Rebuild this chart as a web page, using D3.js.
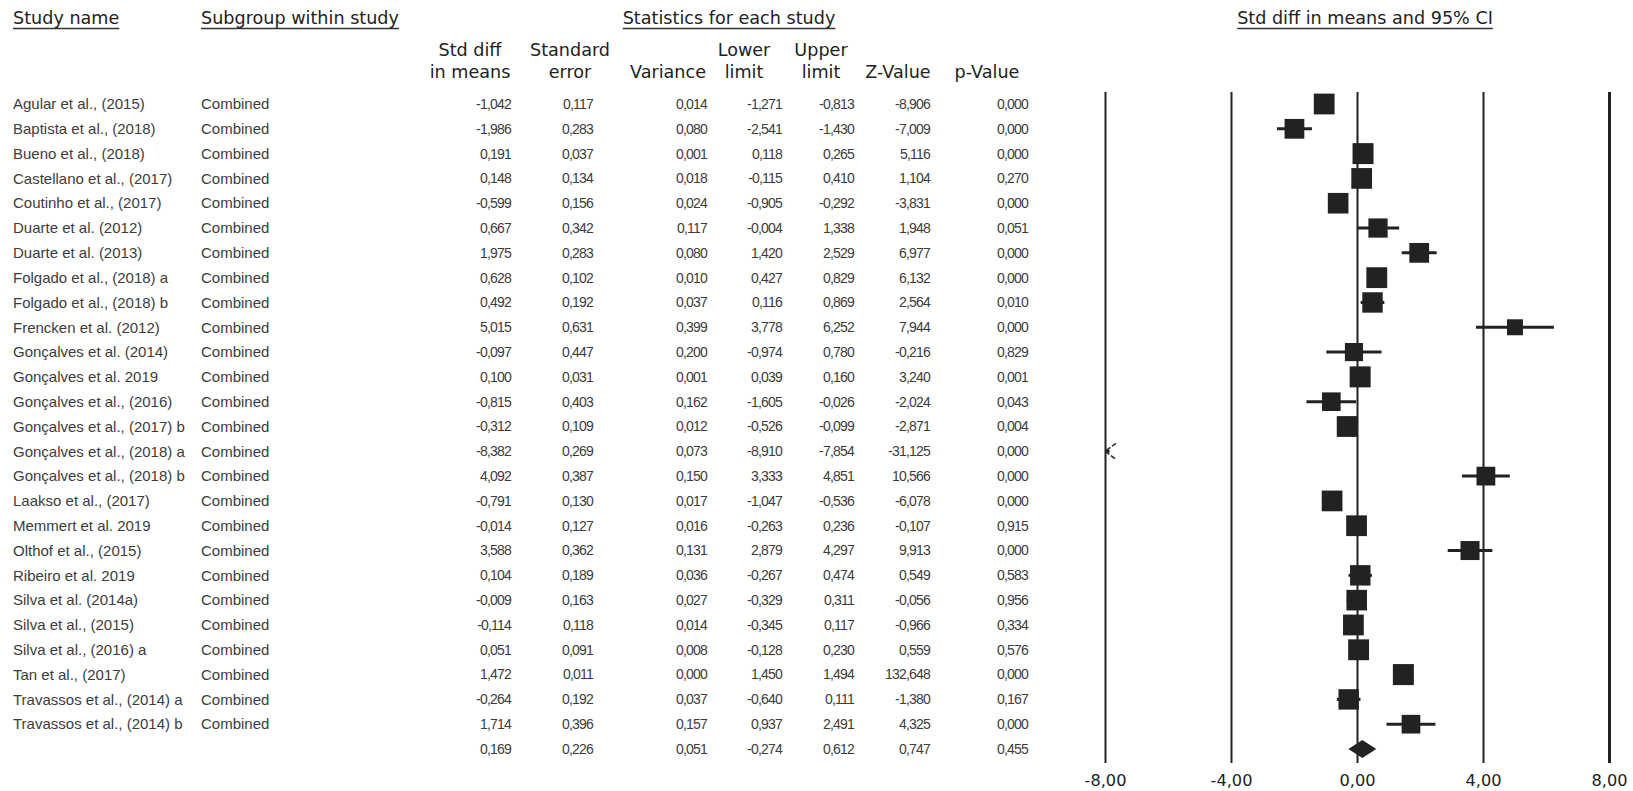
<!DOCTYPE html>
<html>
<head>
<meta charset="utf-8">
<script src="https://cdn.jsdelivr.net/npm/d3@7"></script>
<style>
  html, body { margin: 0; padding: 0; background: #fff; }
  svg { display: block; }
</style>
</head>
<body>
<svg id="chart" width="1633" height="791"></svg>
<script>
// Forest plot: standardized mean differences with 95% CI (random effects)
const studies = [
  "Agular et al., (2015)", "Baptista et al., (2018)", "Bueno et al., (2018)",
  "Castellano et al., (2017)", "Coutinho et al., (2017)", "Duarte et al. (2012)",
  "Duarte et al. (2013)", "Folgado et al., (2018) a", "Folgado et al., (2018) b",
  "Frencken et al. (2012)", "Gonçalves et al. (2014)", "Gonçalves et al. 2019",
  "Gonçalves et al., (2016)", "Gonçalves et al., (2017) b", "Gonçalves et al., (2018) a",
  "Gonçalves et al., (2018) b", "Laakso et al., (2017)", "Memmert et al. 2019",
  "Olthof et al., (2015)", "Ribeiro et al. 2019", "Silva et al. (2014a)",
  "Silva et al., (2015)", "Silva et al., (2016) a", "Tan et al., (2017)",
  "Travassos et al., (2014) a", "Travassos et al., (2014) b"
];
const subgroups = studies.map(() => "Combined");

const stdDiff  = [-1.042, -1.986, 0.191, 0.148, -0.599, 0.667, 1.975, 0.628, 0.492, 5.015, -0.097, 0.100, -0.815, -0.312, -8.382, 4.092, -0.791, -0.014, 3.588, 0.104, -0.009, -0.114, 0.051, 1.472, -0.264, 1.714];
const stdErr   = [0.117, 0.283, 0.037, 0.134, 0.156, 0.342, 0.283, 0.102, 0.192, 0.631, 0.447, 0.031, 0.403, 0.109, 0.269, 0.387, 0.130, 0.127, 0.362, 0.189, 0.163, 0.118, 0.091, 0.011, 0.192, 0.396];
const variance = [0.014, 0.080, 0.001, 0.018, 0.024, 0.117, 0.080, 0.010, 0.037, 0.399, 0.200, 0.001, 0.162, 0.012, 0.073, 0.150, 0.017, 0.016, 0.131, 0.036, 0.027, 0.014, 0.008, 0.000, 0.037, 0.157];
const lowerLim = [-1.271, -2.541, 0.118, -0.115, -0.905, -0.004, 1.420, 0.427, 0.116, 3.778, -0.974, 0.039, -1.605, -0.526, -8.910, 3.333, -1.047, -0.263, 2.879, -0.267, -0.329, -0.345, -0.128, 1.450, -0.640, 0.937];
const upperLim = [-0.813, -1.430, 0.265, 0.410, -0.292, 1.338, 2.529, 0.829, 0.869, 6.252, 0.780, 0.160, -0.026, -0.099, -7.854, 4.851, -0.536, 0.236, 4.297, 0.474, 0.311, 0.117, 0.230, 1.494, 0.111, 2.491];
const zValue   = [-8.906, -7.009, 5.116, 1.104, -3.831, 1.948, 6.977, 6.132, 2.564, 7.944, -0.216, 3.240, -2.024, -2.871, -31.125, 10.566, -6.078, -0.107, 9.913, 0.549, -0.056, -0.966, 0.559, 132.648, -1.380, 4.325];
const pValue   = [0.000, 0.000, 0.000, 0.270, 0.000, 0.051, 0.000, 0.000, 0.010, 0.000, 0.829, 0.001, 0.043, 0.004, 0.000, 0.000, 0.000, 0.915, 0.000, 0.583, 0.956, 0.334, 0.576, 0.000, 0.167, 0.000];

// Pooled estimate row
const summary = { stdDiff: 0.169, stdErr: 0.226, variance: 0.051, lower: -0.274, upper: 0.612, z: 0.747, p: 0.455 };

const tickValues = [-8, -4, 0, 4, 8];

const columnHeads = [
  ["Std diff", "in means"], ["Standard", "error"], ["", "Variance"],
  ["Lower", "limit"], ["Upper", "limit"], ["", "Z-Value"], ["", "p-Value"]
];

// ---------------------------------------------------------------
const svg = d3.select("#chart");
const ink = "#222";
const rowInk = "#3c3c3c";

const loc = d3.formatLocale({ decimal: ",", thousands: ".", grouping: [3], currency: ["", ""], minus: "-" });
const f3 = loc.format(".3f");
const f2 = loc.format(".2f");

const nRows = studies.length + 1;
const y = d3.scalePoint().domain(d3.range(nRows)).range([104, 749]);
const x = d3.scaleLinear().domain([-8, 8]).range([1105, 1609]);

// random-effects weights (DerSimonian-Laird) for box sizes
const v = stdErr.map(s => s * s);
const wf = v.map(d => 1 / d);
const sw = d3.sum(wf), sw2 = d3.sum(wf, d => d * d);
const ybar = d3.sum(stdDiff, (d, i) => d * wf[i]) / sw;
const Q = d3.sum(stdDiff, (d, i) => wf[i] * (d - ybar) ** 2);
const tau2 = Math.max(0, (Q - (studies.length - 1)) / (sw - sw2 / sw));
const wr = v.map(d => 1 / (d + tau2));
const box = d3.scaleLinear().domain([0, d3.max(wr)]).range([0, 21]);

// --- section headings -----------------------------------------
const headFont = "'DejaVu Sans', sans-serif";
const rowFont = "'Liberation Sans', Arial, sans-serif";
const headSize = 17.6;

function underlined(g, txt, xPos, yPos, anchor) {
  const t = g.append("text")
    .attr("x", xPos).attr("y", yPos)
    .attr("text-anchor", anchor)
    .attr("font-family", headFont).attr("font-size", headSize)
    .attr("fill", ink).text(txt);
  const w = t.node().getComputedTextLength();
  const x0 = anchor === "middle" ? xPos - w / 2 : xPos;
  g.append("line").attr("x1", x0).attr("x2", x0 + w)
    .attr("y1", yPos + 4.5).attr("y2", yPos + 4.5)
    .attr("stroke", "#333").attr("stroke-width", 1.5);
}
const heads = svg.append("g");
underlined(heads, "Study name", 13, 24, "start");
underlined(heads, "Subgroup within study", 201, 24, "start");
underlined(heads, "Statistics for each study", 729, 24, "middle");
underlined(heads, "Std diff in means and 95% CI", 1365, 24, "middle");

// --- statistics columns -----------------------------------------
const colCenters = [470, 570, 668, 744, 821, 898, 987];
const colRights  = [511, 593, 707, 782, 854, 930, 1028];

const ch = svg.append("g").attr("font-family", headFont).attr("font-size", headSize)
  .attr("fill", ink).attr("text-anchor", "middle");
columnHeads.forEach((pair, i) => {
  ch.append("text").attr("x", colCenters[i]).attr("y", 56).text(pair[0]);
  ch.append("text").attr("x", colCenters[i]).attr("y", 78).text(pair[1]);
});

const rows = studies.map((s, i) => ({
  name: s, sub: subgroups[i],
  vals: [stdDiff[i], stdErr[i], variance[i], lowerLim[i], upperLim[i], zValue[i], pValue[i]],
  est: stdDiff[i], lo: lowerLim[i], hi: upperLim[i], w: wr[i], i
}));

const tbl = svg.append("g").attr("font-family", rowFont).attr("fill", rowInk);
const rg = tbl.selectAll("g.row").data(rows).join("g").attr("class", "row")
  .attr("transform", d => `translate(0,${y(d.i)})`);
rg.append("text").attr("x", 13).attr("dy", "0.35em").attr("font-size", 15).text(d => d.name);
rg.append("text").attr("x", 201).attr("dy", "0.35em").attr("font-size", 15).text(d => d.sub);

function numCells(sel) {
  sel.attr("class", "num")
    .attr("x", (d, j) => colRights[j]).attr("dy", "0.35em")
    .attr("text-anchor", "end").attr("font-size", 14)
    .attr("letter-spacing", "-0.8px")
    .text(d => f3(d));
}
rg.selectAll("text.num").data(d => d.vals).join("text").call(numCells);

const sumVals = [summary.stdDiff, summary.stdErr, summary.variance, summary.lower, summary.upper, summary.z, summary.p];
tbl.append("g").attr("transform", `translate(0,${y(studies.length)})`)
  .selectAll("text").data(sumVals).join("text").call(numCells);

// --- plot -----------------------------------------------------
const plotTop = 92, plotBottom = 763;
const axis = d3.axisBottom(x).tickValues(tickValues)
  .tickSize(-(plotBottom - plotTop)).tickPadding(10).tickFormat(d => f2(d));
const ax = svg.append("g").attr("transform", `translate(0,${plotBottom})`).call(axis);
ax.select(".domain").remove();
ax.selectAll(".tick line").attr("stroke", ink)
  .attr("stroke-width", d => d === 8 ? 3 : 2);
ax.selectAll(".tick text").attr("font-family", headFont).attr("font-size", 16.2)
  .attr("fill", ink).attr("dy", "0.35em").attr("y", 17);

const plot = svg.append("g");
const [dMin, dMax] = x.domain();
const clamp = v => Math.max(dMin, Math.min(dMax, v));

// confidence interval whiskers
plot.selectAll("line.ci").data(rows).join("line").attr("class", "ci")
  .attr("x1", d => x(clamp(d.lo))).attr("x2", d => x(clamp(d.hi)))
  .attr("y1", d => y(d.i)).attr("y2", d => y(d.i))
  .attr("stroke", ink).attr("stroke-width", 3);

// estimate boxes (inside the axis range)
const inRange = rows.filter(d => d.est >= dMin && d.est <= dMax);
plot.selectAll("rect.box").data(inRange).join("rect").attr("class", "box")
  .attr("x", d => x(d.est) - box(d.w) / 2).attr("y", d => y(d.i) - box(d.w) / 2)
  .attr("width", d => box(d.w)).attr("height", d => box(d.w))
  .attr("fill", ink);

// estimates beyond the left edge: arrow at the boundary
const offLeft = rows.filter(d => d.est < dMin);
plot.selectAll("path.arrow").data(offLeft).join("path").attr("class", "arrow")
  .attr("d", d => {
    const x0 = x(dMin), y0 = y(d.i);
    return `M${x0 + 11},${y0 - 8}L${x0},${y0}L${x0 + 11},${y0 + 8}`;
  })
  .attr("fill", "none").attr("stroke", ink).attr("stroke-width", 1.5)
  .attr("stroke-dasharray", "5,2");

// pooled estimate diamond
const ys = y(studies.length);
plot.append("path")
  .attr("d", `M${x(summary.lower)},${ys}L${x(summary.stdDiff)},${ys - 9}L${x(summary.upper)},${ys}L${x(summary.stdDiff)},${ys + 9}Z`)
  .attr("fill", ink);
</script>
</body>
</html>
